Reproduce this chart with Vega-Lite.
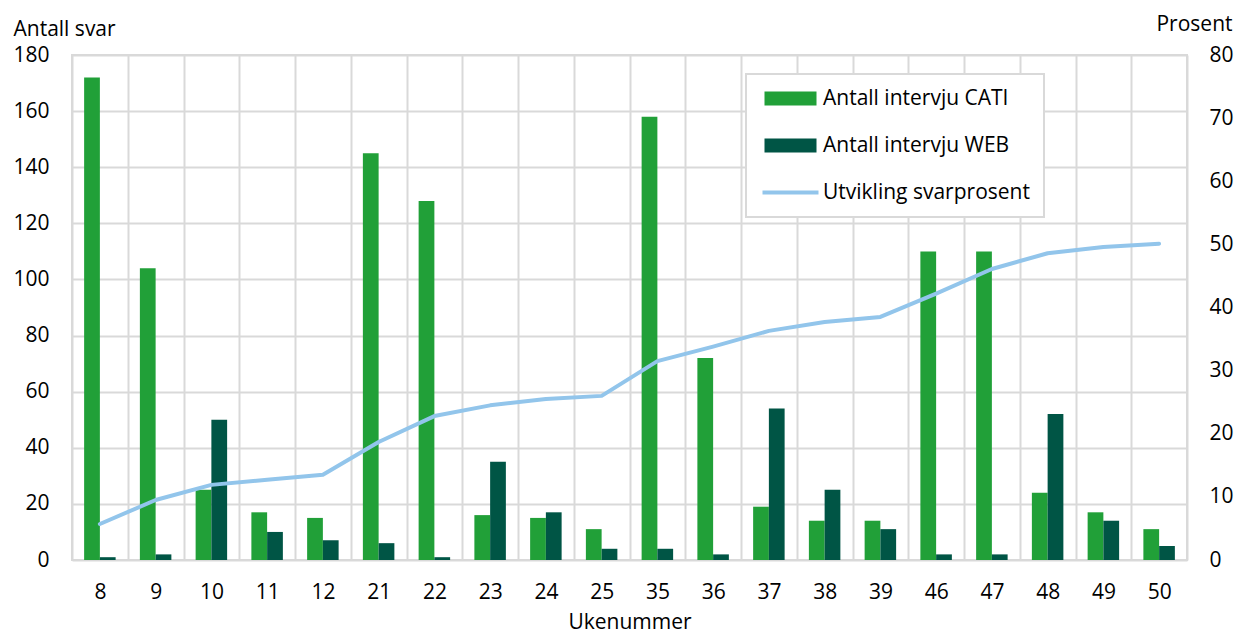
{
  "$schema": "https://vega.github.io/schema/vega-lite/v6.json",
  "width": 1115,
  "height": 505,
  "autosize": {"type": "none"},
  "padding": {"left": 72, "top": 55, "right": 49, "bottom": 73},
  "background": "white",
  "config": {
    "font": "Open Sans",
    "view": {"stroke": "#d9d9d9", "strokeWidth": 2},
    "axis": {
      "labelFont": "Open Sans", "labelFontSize": 21, "labelColor": "#000",
      "titleFont": "Open Sans", "titleFontSize": 21, "titleFontWeight": "normal", "titleColor": "#000",
      "domain": false, "ticks": false, "tickSize": 0,
      "gridColor": "#d9d9d9", "gridWidth": 2, "gridOpacity": 1
    },
    "legend": {"strokeWidth": 2}
  },
  "datasets": {
    "bars": [
      {"week": "8", "serie": "Antall intervju CATI", "antall": 172},
      {"week": "8", "serie": "Antall intervju WEB", "antall": 1},
      {"week": "9", "serie": "Antall intervju CATI", "antall": 104},
      {"week": "9", "serie": "Antall intervju WEB", "antall": 2},
      {"week": "10", "serie": "Antall intervju CATI", "antall": 25},
      {"week": "10", "serie": "Antall intervju WEB", "antall": 50},
      {"week": "11", "serie": "Antall intervju CATI", "antall": 17},
      {"week": "11", "serie": "Antall intervju WEB", "antall": 10},
      {"week": "12", "serie": "Antall intervju CATI", "antall": 15},
      {"week": "12", "serie": "Antall intervju WEB", "antall": 7},
      {"week": "21", "serie": "Antall intervju CATI", "antall": 145},
      {"week": "21", "serie": "Antall intervju WEB", "antall": 6},
      {"week": "22", "serie": "Antall intervju CATI", "antall": 128},
      {"week": "22", "serie": "Antall intervju WEB", "antall": 1},
      {"week": "23", "serie": "Antall intervju CATI", "antall": 16},
      {"week": "23", "serie": "Antall intervju WEB", "antall": 35},
      {"week": "24", "serie": "Antall intervju CATI", "antall": 15},
      {"week": "24", "serie": "Antall intervju WEB", "antall": 17},
      {"week": "25", "serie": "Antall intervju CATI", "antall": 11},
      {"week": "25", "serie": "Antall intervju WEB", "antall": 4},
      {"week": "35", "serie": "Antall intervju CATI", "antall": 158},
      {"week": "35", "serie": "Antall intervju WEB", "antall": 4},
      {"week": "36", "serie": "Antall intervju CATI", "antall": 72},
      {"week": "36", "serie": "Antall intervju WEB", "antall": 2},
      {"week": "37", "serie": "Antall intervju CATI", "antall": 19},
      {"week": "37", "serie": "Antall intervju WEB", "antall": 54},
      {"week": "38", "serie": "Antall intervju CATI", "antall": 14},
      {"week": "38", "serie": "Antall intervju WEB", "antall": 25},
      {"week": "39", "serie": "Antall intervju CATI", "antall": 14},
      {"week": "39", "serie": "Antall intervju WEB", "antall": 11},
      {"week": "46", "serie": "Antall intervju CATI", "antall": 110},
      {"week": "46", "serie": "Antall intervju WEB", "antall": 2},
      {"week": "47", "serie": "Antall intervju CATI", "antall": 110},
      {"week": "47", "serie": "Antall intervju WEB", "antall": 2},
      {"week": "48", "serie": "Antall intervju CATI", "antall": 24},
      {"week": "48", "serie": "Antall intervju WEB", "antall": 52},
      {"week": "49", "serie": "Antall intervju CATI", "antall": 17},
      {"week": "49", "serie": "Antall intervju WEB", "antall": 14},
      {"week": "50", "serie": "Antall intervju CATI", "antall": 11},
      {"week": "50", "serie": "Antall intervju WEB", "antall": 5}
    ],
    "line": [
      {"week": "8", "pct": 5.7},
      {"week": "9", "pct": 9.5},
      {"week": "10", "pct": 11.9},
      {"week": "11", "pct": 12.7},
      {"week": "12", "pct": 13.5},
      {"week": "21", "pct": 18.7},
      {"week": "22", "pct": 22.8},
      {"week": "23", "pct": 24.5},
      {"week": "24", "pct": 25.5},
      {"week": "25", "pct": 26.0},
      {"week": "35", "pct": 31.5},
      {"week": "36", "pct": 33.8},
      {"week": "37", "pct": 36.3},
      {"week": "38", "pct": 37.7},
      {"week": "39", "pct": 38.5},
      {"week": "46", "pct": 42.2},
      {"week": "47", "pct": 46.1},
      {"week": "48", "pct": 48.6},
      {"week": "49", "pct": 49.6},
      {"week": "50", "pct": 50.1}
    ]
  },
  "layer": [
    {
      "data": {"name": "bars"},
      "mark": {"type": "bar"},
      "encoding": {
        "x": {
          "field": "week", "type": "nominal", "title": "Ukenummer",
          "scale": {"domain": ["8","9","10","11","12","21","22","23","24","25","35","36","37","38","39","46","47","48","49","50"], "paddingInner": 0, "paddingOuter": 0},
          "axis": {"tickBand": "extent", "grid": true, "labelAngle": 0, "labelPadding": 21, "titleBaseline": "alphabetic", "titleY": 68}
        },
        "xOffset": {
          "field": "serie", "type": "nominal",
          "scale": {"domain": ["Antall intervju CATI", "Antall intervju WEB"], "paddingInner": 0, "paddingOuter": 0.77}
        },
        "y": {
          "field": "antall", "type": "quantitative", "title": "Antall svar",
          "scale": {"domain": [0, 180]},
          "axis": {"values": [0,20,40,60,80,100,120,140,160,180], "grid": true, "labelPadding": 23, "titleAngle": 0, "titleAlign": "left", "titleBaseline": "alphabetic", "titleX": -59, "titleY": -20}
        },
        "color": {
          "field": "serie", "type": "nominal",
          "scale": {"domain": ["Antall intervju CATI", "Antall intervju WEB", "Utvikling svarprosent"], "range": ["#21a038", "#005545", "#92c5eb"]},
          "legend": {
            "title": null,
            "orient": "none", "legendX": 674, "legendY": 19,
            "padding": 14,
            "strokeColor": "#d9d9d9",
            "fillColor": "white",
            "labelFont": "Open Sans", "labelFontSize": 21, "labelColor": "#000",
            "labelLimit": 400,
            "symbolSize": 400,
            "labelOffset": 42,
            "rowPadding": 25,
            "encode": {
              "symbols": {
                "update": {
                  "shape": {"signal": "datum.value === 'Utvikling svarprosent' ? 'M-0.8,-0.2H4.8V0.2H-0.8Z' : 'M-0.6,-0.7H4.6V0.7H-0.6Z'"},
                  "fill": {"signal": "scale('color', datum.value)"},
                  "stroke": {"value": "transparent"},
                  "strokeWidth": {"value": 0},
                  "opacity": {"value": 1},
                  "fillOpacity": {"value": 1}
                }
              }
            }
          }
        }
      }
    },
    {
      "data": {"name": "line"},
      "mark": {"type": "line", "strokeWidth": 4, "strokeCap": "round", "strokeJoin": "round"},
      "encoding": {
        "x": {"field": "week", "type": "nominal", "title": "Ukenummer"},
        "y": {
          "field": "pct", "type": "quantitative", "title": "Prosent",
          "scale": {"domain": [0, 80]},
          "axis": {"orient": "right", "values": [0,10,20,30,40,50,60,70,80], "grid": false, "labelPadding": 22, "titleAngle": 0, "titleAlign": "right", "titleBaseline": "alphabetic", "titleX": 45, "titleY": -25}
        },
        "color": {"datum": "Utvikling svarprosent"}
      }
    }
  ],
  "resolve": {"scale": {"y": "independent"}}
}
